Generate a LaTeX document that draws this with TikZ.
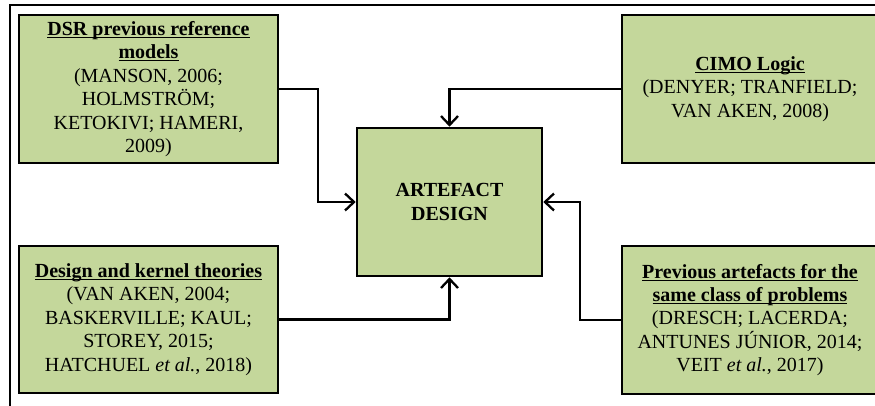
\documentclass[tikz,border=0pt]{standalone}
\usepackage{fontspec}
\setmainfont{Liberation Serif}[FakeStretch=1.0]
\usetikzlibrary{arrows.meta}
\definecolor{boxgreen}{RGB}{196,215,155}
\newcommand\myul[1]{\setbox0\hbox{#1}\rlap{\rule[-2.6pt]{\wd0}{1.2pt}}\box0}
\tikzset{
  refbox/.style={draw=black, line width=2.6pt, fill=boxgreen, rectangle,
    align=center, inner sep=0pt, font=\fontsize{20}{23.4}\selectfont},
  conn/.style={draw=black, line width=2.3pt,
    -{Straight Barb[length=9pt,width=17pt,line width=2.3pt]}}
}
\begin{document}
\begin{tikzpicture}[x=1pt,y=-1pt]
\useasboundingbox (0,0) rectangle (875,405);
\clip (0,0) rectangle (875,405);
\draw[line width=2pt] (10,420) -- (10,5) -- (890,5);
\node[refbox, minimum width=259pt, minimum height=148pt] (dsr) at (148.5,89)
  {\myul{\textbf{DSR previous reference}}\\\myul{\textbf{models}}\\(MANSON, 2006;\\HOLMSTRÖM;\\KETOKIVI; HAMERI,\\2009)};
\node[refbox, minimum width=256pt, minimum height=148pt] (cimo) at (750,89)
  {\myul{\textbf{CIMO Logic}}\\(DENYER; TRANFIELD;\\VAN AKEN, 2008)};
\node[refbox, minimum width=185pt, minimum height=148pt] (art) at (449.5,202)
  {\textbf{ARTEFACT}\\\textbf{DESIGN}};
\node[refbox, minimum width=259pt, minimum height=147pt] (dk) at (148.5,319.5)
  {\myul{\textbf{Design and kernel theories}}\\(VAN AKEN, 2004;\\BASKERVILLE; KAUL;\\STOREY, 2015;\\HATCHUEL \textit{et al.}, 2018)};
\node[refbox, minimum width=256pt, minimum height=148pt] (pa) at (750,320)
  {\myul{\textbf{Previous artefacts for the}}\\\myul{\textbf{same class of problems}}\\(DRESCH; LACERDA;\\ANTUNES JÚNIOR, 2014;\\VEIT \textit{et al.}, 2017)};
\draw[conn] (dsr.east) -- ++(39,0) |- (art.west);
\draw[conn] (cimo.west) -| (art.north);
\draw[conn] (dk.east) -| (art.south);
\draw[conn] (pa.west) -- ++(-41,0) |- (art.east);
\end{tikzpicture}
\end{document}
